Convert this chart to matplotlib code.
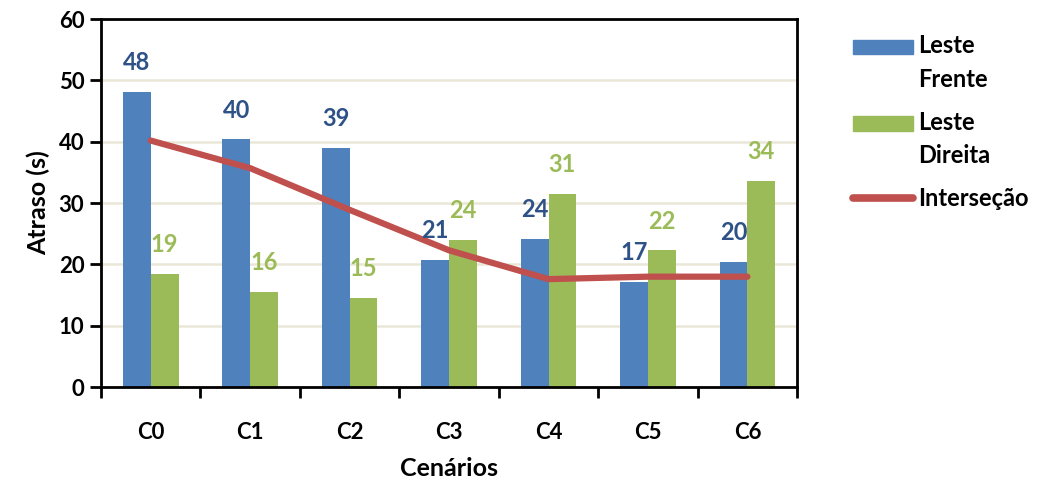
import numpy as np
import matplotlib.pyplot as plt
import matplotlib.patches as mpatches
from matplotlib.lines import Line2D
from matplotlib.legend_handler import HandlerPatch
from matplotlib.ticker import FixedLocator

plt.rcParams['font.family'] = ['Lato', 'DejaVu Sans']
plt.rcParams['font.weight'] = 'bold'

categorias = ["C0", "C1", "C2", "C3", "C4", "C5", "C6"]
leste_frente = [48.1, 40.4, 39.0, 20.7, 24.2, 17.2, 20.4]
leste_direita = [18.5, 15.5, 14.6, 24.0, 31.5, 22.3, 33.6]
rotulos_frente = [48, 40, 39, 21, 24, 17, 20]
rotulos_direita = [19, 16, 15, 24, 31, 22, 34]
intersecao = [40.2, 35.7, 28.9, 22.3, 17.6, 18.0, 18.0]

azul = "#4F81BD"
verde = "#9BBB59"
vermelho = "#C0504D"


class HandlerPatchTop(HandlerPatch):
    # legend patch moved up so it sits next to the first line of a two-line label
    def create_artists(self, legend, orig_handle, xdescent, ydescent,
                       width, height, fontsize, trans):
        p = mpatches.Rectangle((-xdescent, -ydescent + 0.7 * fontsize), width, height)
        self.update_prop(p, orig_handle, legend)
        p.set_transform(trans)
        return [p]


fig = plt.figure(figsize=(10.39, 4.79), dpi=100)
ax = fig.add_axes([0.0972, 0.192, 0.67, 0.768])

x = np.arange(len(categorias))
w = 0.28

ax.bar(x - w / 2, leste_frente, w, color=azul, zorder=2)
ax.bar(x + w / 2, leste_direita, w, color=verde, zorder=2)
ax.plot(x, intersecao, color=vermelho, lw=4.5, zorder=3, solid_capstyle="round")

# data labels above each bar
for xi, v, r in zip(x, leste_frente, rotulos_frente):
    ax.annotate(str(r), (xi - w / 2, v), xytext=(0, 21), textcoords="offset points",
                ha="center", va="center", color="#2E5287", fontsize=17, fontweight="bold")
for xi, v, r in zip(x, leste_direita, rotulos_direita):
    ax.annotate(str(r), (xi + w / 2, v), xytext=(0, 21), textcoords="offset points",
                ha="center", va="center", color=verde, fontsize=17, fontweight="bold")

ax.set_xlim(-0.5, len(categorias) - 0.5)
ax.set_ylim(0, 60)
ax.set_yticks(range(0, 61, 10))
ax.yaxis.grid(True, color="#EAE6D8", lw=1.8, zorder=0)
ax.set_axisbelow(True)

ax.set_xticks(x)
ax.set_xticklabels(categorias)
ax.xaxis.set_minor_locator(FixedLocator(np.arange(-0.5, len(categorias), 1.0)))
ax.tick_params(axis="x", which="major", length=0, pad=25, labelsize=16)
ax.tick_params(axis="x", which="minor", length=8, width=2, direction="out")
ax.tick_params(axis="y", length=8, width=2, direction="out", labelsize=16, pad=4)
for s in ax.spines.values():
    s.set_linewidth(2)

ax.set_ylabel("Atraso (s)", fontsize=18, fontweight="bold", labelpad=6)
ax.set_xlabel("Cenários", fontsize=18, fontweight="bold", labelpad=10)

h_frente = mpatches.Patch(color=azul)
h_direita = mpatches.Patch(color=verde)
h_inter = Line2D([], [], color=vermelho, lw=5.5, solid_capstyle="round")
leg = ax.legend([h_frente, h_direita, h_inter], ["Leste\nFrente", "Leste\nDireita", "Interseção"],
                loc="upper left", bbox_to_anchor=(1.067, 0.985),
                frameon=False, fontsize=17, handlelength=2.55, handleheight=0.55,
                labelspacing=0.85, handletextpad=0.2, borderaxespad=0,
                handler_map={h_frente: HandlerPatchTop(), h_direita: HandlerPatchTop()})
for t in leg.get_texts():
    t.set_linespacing(1.55)

fig.savefig("out.png", dpi=100)
